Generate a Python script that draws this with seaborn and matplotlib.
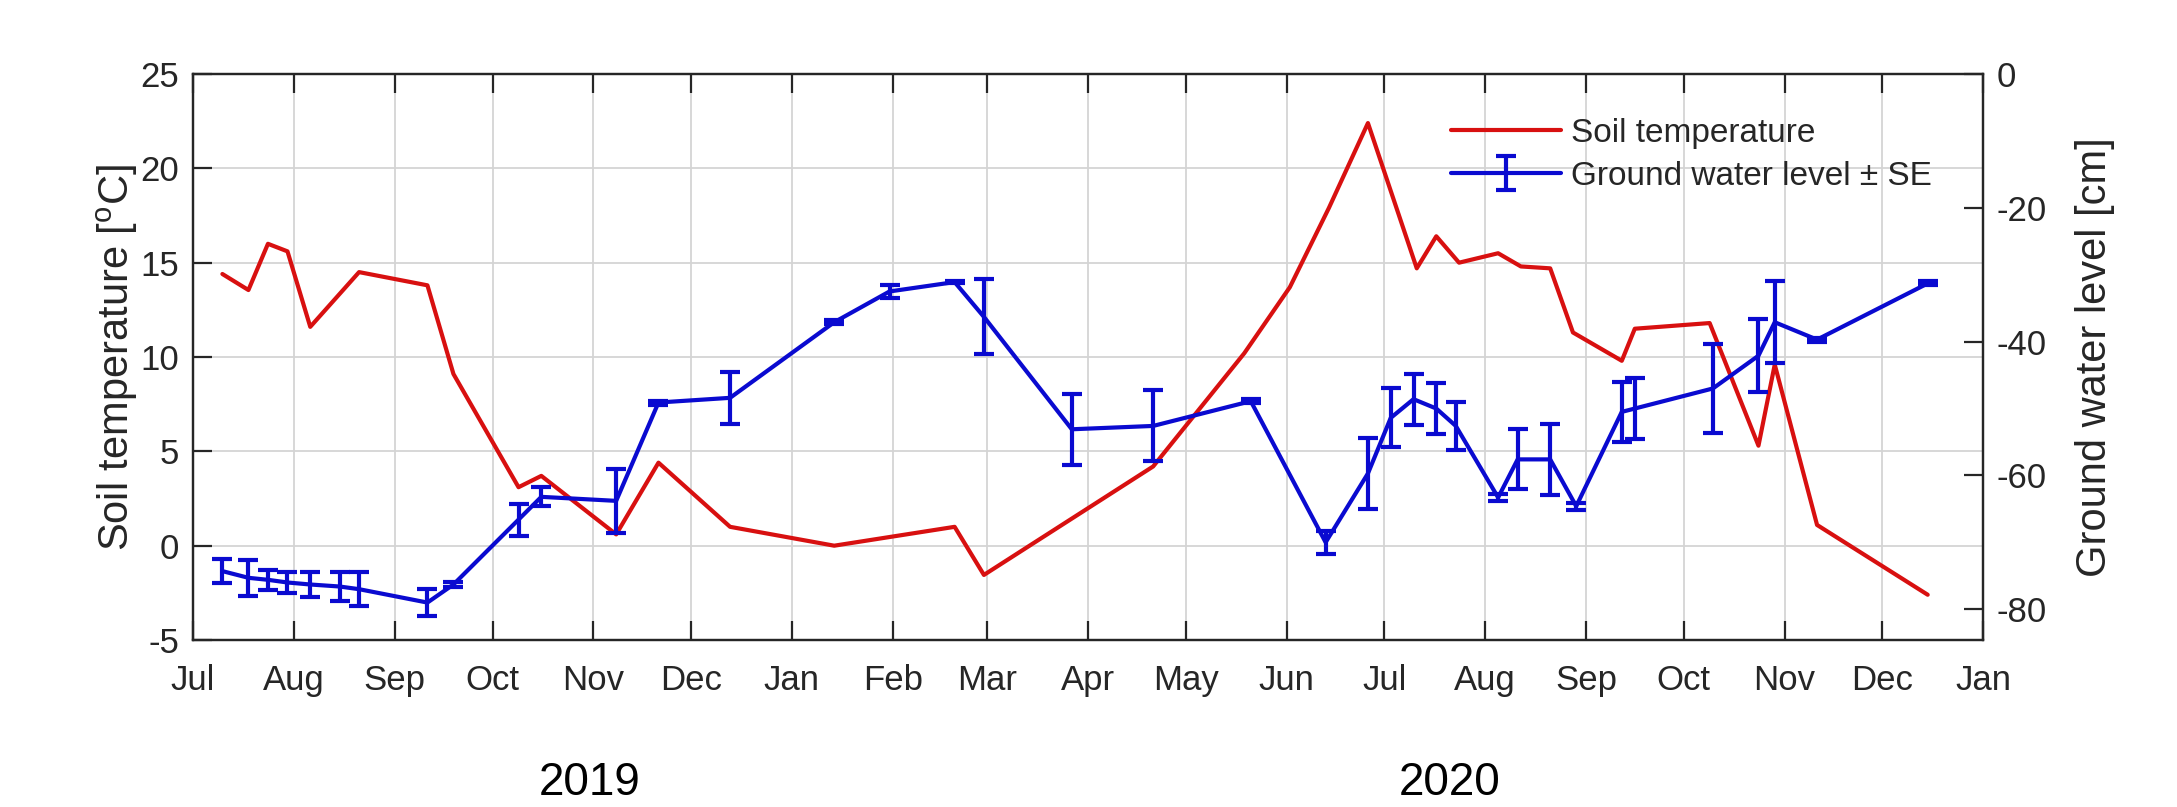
import pandas as pd
import matplotlib
matplotlib.use('Agg')
import matplotlib.pyplot as plt
import matplotlib.dates as mdates
from matplotlib.legend_handler import HandlerTuple
import seaborn as sns

# Soil temperature (left axis)
temp_dates = ['2019-07-10', '2019-07-18', '2019-07-24', '2019-07-30', '2019-08-06',
              '2019-08-21', '2019-09-11', '2019-09-19', '2019-10-09', '2019-10-16',
              '2019-11-08', '2019-11-21', '2019-12-13', '2020-01-14', '2020-02-20',
              '2020-02-29', '2020-04-21', '2020-05-19', '2020-06-02', '2020-06-14',
              '2020-06-26', '2020-07-11', '2020-07-17', '2020-07-24', '2020-08-05',
              '2020-08-12', '2020-08-21', '2020-08-28', '2020-09-12', '2020-09-16',
              '2020-10-09', '2020-10-24', '2020-10-29', '2020-11-11', '2020-12-15']
temp_values = [14.4, 13.55, 16.0, 15.6, 11.6,
               14.5, 13.8, 9.1, 3.1, 3.7,
               0.6, 4.4, 1.0, 0.0, 1.0,
               -1.55, 4.2, 10.2, 13.7, 17.9,
               22.4, 14.7, 16.4, 15.0, 15.5,
               14.8, 14.7, 11.3, 9.8, 11.5,
               11.8, 5.3, 9.6, 1.1, -2.6]

# Ground water level (right axis) with standard errors
gw_dates = ['2019-07-10', '2019-07-18', '2019-07-24', '2019-07-30', '2019-08-06',
            '2019-08-15', '2019-08-21', '2019-09-11', '2019-09-19', '2019-10-09',
            '2019-10-16', '2019-11-08', '2019-11-21', '2019-12-13', '2020-01-14',
            '2020-01-31', '2020-02-20', '2020-02-29', '2020-03-27', '2020-04-21',
            '2020-05-21', '2020-06-13', '2020-06-26', '2020-07-03', '2020-07-10',
            '2020-07-17', '2020-07-23', '2020-08-05', '2020-08-11', '2020-08-21',
            '2020-08-29', '2020-09-12', '2020-09-16', '2020-10-10', '2020-10-24',
            '2020-10-29', '2020-11-11', '2020-12-15']
gw_values = [-74.3, -75.3, -75.6, -76.0, -76.3,
             -76.6, -77.0, -79.0, -76.3, -66.6,
             -63.2, -63.8, -49.1, -48.4, -37.1,
             -32.5, -31.1, -36.3, -53.1, -52.6,
             -48.9, -70.0, -59.7, -51.4, -48.6,
             -50.0, -52.6, -63.3, -57.6, -57.6,
             -64.6, -50.5, -50.0, -47.0, -42.1,
             -37.1, -39.7, -31.3]
gw_se = [1.8, 2.7, 1.5, 1.5, 1.8,
         2.2, 2.5, 2.0, 0.4, 2.4,
         1.4, 4.8, 0.3, 3.9, 0.3,
         1.0, 0.2, 5.6, 5.3, 5.3,
         0.3, 1.7, 5.3, 4.4, 3.8,
         3.8, 3.6, 0.5, 4.5, 5.3,
         0.5, 4.5, 4.5, 6.7, 5.5,
         6.1, 0.3, 0.3]

temp = pd.DataFrame({'date': pd.to_datetime(temp_dates), 'temp': temp_values})
gw = pd.DataFrame({'date': pd.to_datetime(gw_dates), 'level': gw_values, 'se': gw_se})

sns.set_style('ticks')
plt.rcParams['font.family'] = ['Liberation Sans', 'DejaVu Sans']
plt.rcParams['mathtext.fontset'] = 'custom'
plt.rcParams['mathtext.rm'] = 'Liberation Sans'
plt.rcParams['axes.unicode_minus'] = False

red = '#d81010'
blue = '#0a0ad0'
txt = '#262626'
lw = 3.0

fig = plt.figure(figsize=(21.77, 8.07), dpi=100)
ax = fig.add_axes([0.0887, 0.2069, 0.8222, 0.7014])
ax2 = ax.twinx()

# grid behind the data
ax.grid(True, color='#d4d4d4', linewidth=1.3)
ax.set_axisbelow(True)

sns.lineplot(data=temp, x='date', y='temp', ax=ax, color=red, linewidth=lw,
             estimator=None, sort=False, legend=False)
sns.lineplot(data=gw, x='date', y='level', ax=ax2, color=blue, linewidth=lw,
             estimator=None, sort=False, legend=False)
eb = ax2.errorbar(gw['date'], gw['level'], yerr=gw['se'], fmt='none', ecolor=blue,
                  elinewidth=lw, capsize=7.5, capthick=lw)

ax.set_xlim(pd.Timestamp('2019-07-01'), pd.Timestamp('2021-01-01'))
ax.set_ylim(-5, 25)
ax.set_yticks(range(-5, 26, 5))
ax2.set_ylim(-84.6, 0)
ax2.set_yticks([-80, -60, -40, -20, 0])

ax.xaxis.set_major_locator(mdates.MonthLocator())
ax.xaxis.set_major_formatter(mdates.DateFormatter('%b'))

for a in (ax, ax2):
    for s in a.spines.values():
        s.set_color(txt)
        s.set_linewidth(1.6)
ax.tick_params(axis='x', which='major', direction='in', length=14, width=1.6,
               top=True, labelsize=25, labelcolor=txt, color=txt, pad=17)
ax.tick_params(axis='y', direction='in', length=14, width=1.6, labelsize=25,
               labelcolor=txt, color=txt, pad=10)
ax2.tick_params(axis='y', direction='in', length=14, width=1.6, labelsize=25,
                labelcolor=txt, color=txt, pad=10)

ax.set_xlabel('')
ax2.set_xlabel('')
ax.set_ylabel('Soil temperature [$^{\\mathrm{o}}$C]', fontsize=30, color=txt)
ax2.set_ylabel('Ground water level [cm]', fontsize=30, color=txt)
ax.yaxis.set_label_coords(-0.0298, 0.5)
ax2.yaxis.set_label_coords(1.0512, 0.5)

red_line = ax.get_lines()[0]
blue_line = ax2.get_lines()[0]
leg = ax2.legend([red_line, (blue_line, eb)], ['Soil temperature', 'Ground water level \u00b1 SE'],
                 handler_map={tuple: HandlerTuple(ndivide=1)},
                 loc='upper right', bbox_to_anchor=(0.988, 0.975), frameon=False,
                 fontsize=24, handlelength=3.3, handletextpad=0.3, labelspacing=0.35)
for t in leg.get_texts():
    t.set_color(txt)

fig.text(0.271, 0.002, '2019', fontsize=33, ha='center', va='bottom', color='black')
fig.text(0.666, 0.002, '2020', fontsize=33, ha='center', va='bottom', color='black')

fig.savefig('out.png', dpi=100)
